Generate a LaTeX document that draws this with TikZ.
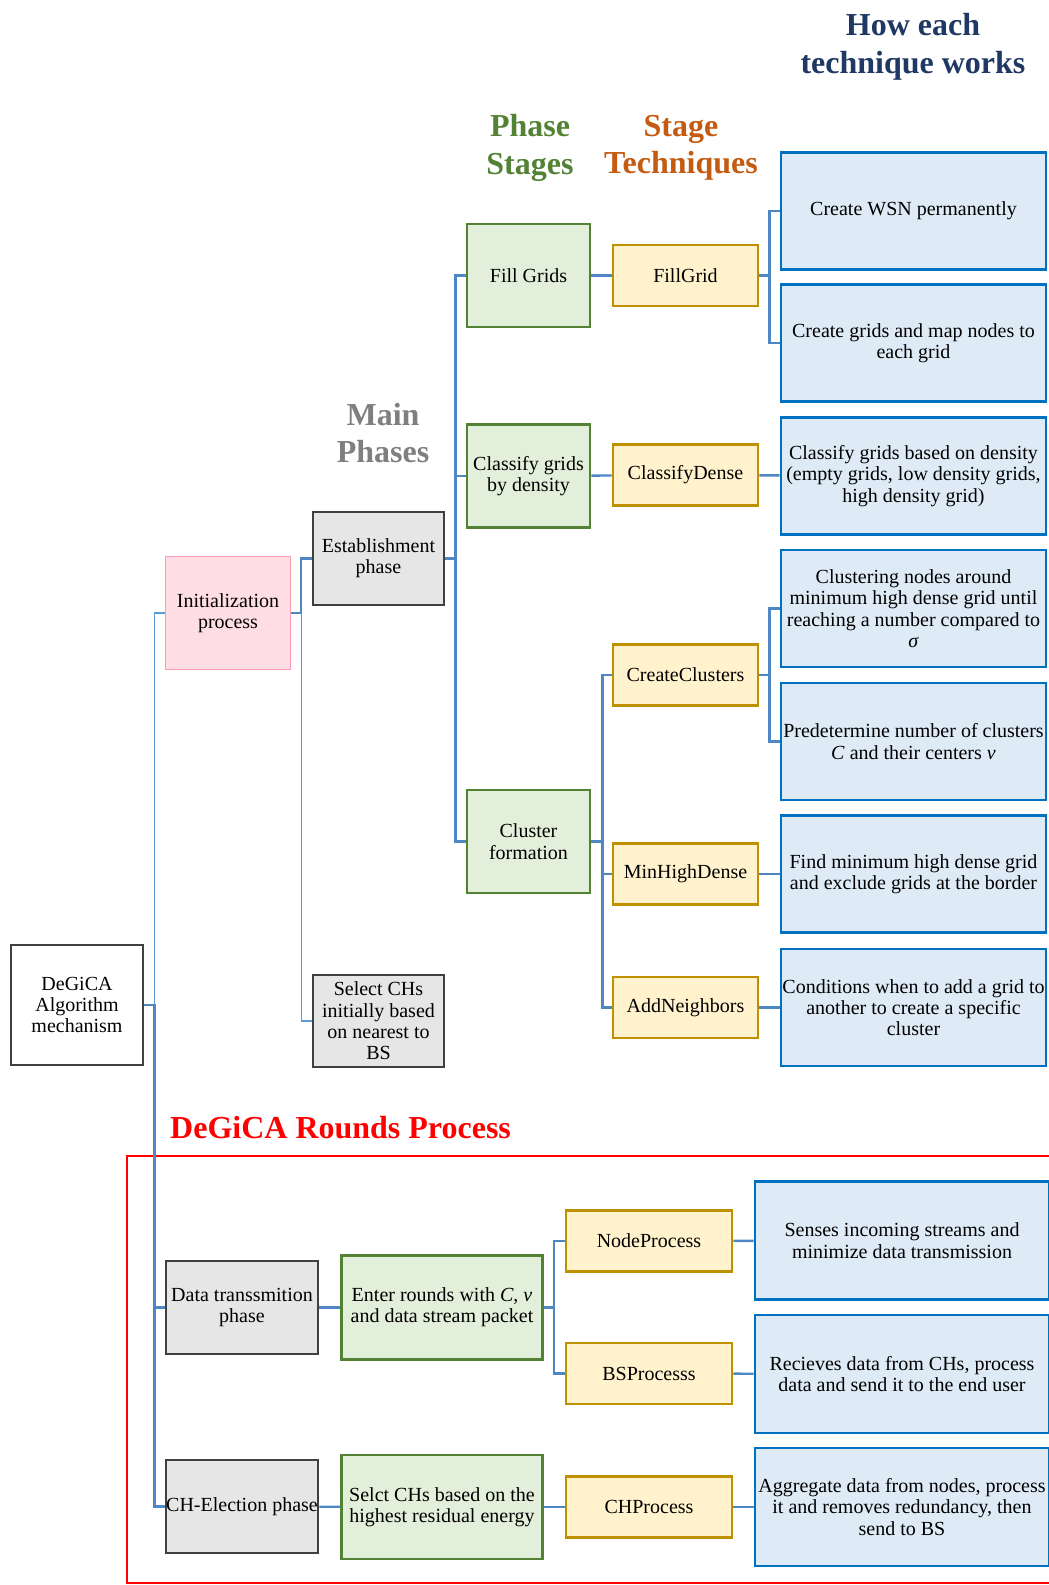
\documentclass[tikz,border=0pt]{standalone}
\usepackage{fontspec}
\setmainfont{Liberation Serif}
\definecolor{linkblue}{HTML}{4F87C5}
\definecolor{linkthin}{HTML}{5B9BD5}
\definecolor{darkedge}{HTML}{404040}
\definecolor{grayfill}{HTML}{E6E6E6}
\definecolor{pinkfill}{HTML}{FFDDE4}
\definecolor{pinkedge}{HTML}{FF9CB5}
\definecolor{greenfill}{HTML}{E2EFDA}
\definecolor{greenedge}{HTML}{548235}
\definecolor{yellowfill}{HTML}{FFF2CC}
\definecolor{yellowedge}{HTML}{BF9000}
\definecolor{bluefill}{HTML}{DEEBF7}
\definecolor{blueedge}{HTML}{0070C0}
\definecolor{navytitle}{HTML}{1F3864}
\definecolor{orangetitle}{HTML}{C55A11}
\definecolor{graytitle}{HTML}{7F7F7F}
\begin{document}
\begin{tikzpicture}[x=1pt,y=-1pt,
  box/.style={rectangle, line width=2.6pt, align=center, inner sep=0pt,
    font=\fontsize{20}{21.3}\selectfont, text=black},
  rootbox/.style={box, draw=darkedge, fill=white},
  phasebox/.style={box, draw=darkedge, fill=grayfill},
  initbox/.style={box, draw=pinkedge, fill=pinkfill, line width=1.5pt},
  stagebox/.style={box, draw=greenedge, fill=greenfill},
  techbox/.style={box, draw=yellowedge, fill=yellowfill},
  infobox/.style={box, draw=blueedge, fill=bluefill},
  heading/.style={align=center, inner sep=0pt, font=\fontsize{32}{37.4}\selectfont\bfseries},
  link/.style={draw=linkblue, line width=2.4pt},
  thinlink/.style={draw=linkthin, line width=1.2pt},
]
\useasboundingbox (0,0) rectangle (1049,1585);
\clip (0,0) rectangle (1049,1585);

% column headings
\node[heading, text=navytitle] (hHow) at (913,47) {How each\\technique works};
\node[heading, text=greenedge] (hStages) at (530,148) {Phase\\Stages};
\node[heading, text=orangetitle] (hTech) at (681,148) {Stage\\Techniques};
\node[heading, text=graytitle] (hMain) at (383,433) {Main\\Phases};
\node[heading, text=red, anchor=west] (hRounds) at (170,1128) {DeGiCA Rounds Process};

% rounds frame
\draw[red, line width=2pt] (1060,1156) -- (127,1156) -- (127,1583) -- (1060,1583);

% root and main phases
\node[rootbox, minimum width=132, minimum height=120] (root) at (77,1005) {DeGiCA\\Algorithm\\mechanism};
\node[initbox, minimum width=125, minimum height=113] (init) at (228,613) {Initialization\\process};
\node[phasebox, minimum width=131, minimum height=93] (estab) at (378.5,558.5) {Establishment\\phase};
\node[phasebox, minimum width=131, minimum height=92] (selch) at (378.5,1021) {Select CHs\\initially based\\on nearest to\\BS};

% phase stages
\node[stagebox, minimum width=123, minimum height=103] (fill) at (528.5,275.5) {Fill Grids};
\node[stagebox, minimum width=123, minimum height=103] (classify) at (528.5,476) {Classify grids\\by density};
\node[stagebox, minimum width=123, minimum height=103] (cluster) at (528.5,841.5) {Cluster\\formation};

% stage techniques
\node[techbox, minimum width=145, minimum height=61] (tFill) at (685.5,275.5) {FillGrid};
\node[techbox, minimum width=145, minimum height=61] (tClass) at (685.5,475) {ClassifyDense};
\node[techbox, minimum width=145, minimum height=61] (tCreate) at (685.5,675) {CreateClusters};
\node[techbox, minimum width=145, minimum height=61] (tMin) at (685.5,874) {MinHighDense};
\node[techbox, minimum width=145, minimum height=61] (tAdd) at (685.5,1007.5) {AddNeighbors};

% how each technique works
\node[infobox, minimum width=265, minimum height=117] (iWsn) at (913.5,211) {Create WSN permanently};
\node[infobox, minimum width=265, minimum height=117] (iGrids) at (913.5,343) {Create grids and map nodes to\\each grid};
\node[infobox, minimum width=265, minimum height=117] (iClass) at (913.5,476) {Classify grids based on density\\(empty grids, low density grids,\\high density grid)};
\node[infobox, minimum width=265, minimum height=117] (iClust) at (913.5,608.5) {Clustering nodes around\\minimum high dense grid until\\reaching a number compared to\\\textit{σ}};
\node[infobox, minimum width=265, minimum height=117] (iPre) at (913.5,741.5) {Predetermine number of clusters\\\textit{C} and their centers \textit{v}};
\node[infobox, minimum width=265, minimum height=117] (iFind) at (913.5,874) {Find minimum high dense grid\\and exclude grids at the border};
\node[infobox, minimum width=265, minimum height=117] (iCond) at (913.5,1007.5) {Conditions when to add a grid to\\another to create a specific\\cluster};

% rounds process
\node[phasebox, minimum width=152, minimum height=93] (data) at (242,1307.5) {Data transsmition\\phase};
\node[phasebox, minimum width=152, minimum height=93] (elect) at (242,1506.5) {CH-Election phase};
\node[stagebox, minimum width=201, minimum height=104] (enter) at (442,1307.5) {Enter rounds with \textit{C}, \textit{v}\\and data stream packet};
\node[stagebox, minimum width=201, minimum height=104] (selct) at (442,1507) {Selct CHs based on the\\highest residual energy};
\node[techbox, minimum width=166, minimum height=61] (tNode) at (649,1241) {NodeProcess};
\node[techbox, minimum width=166, minimum height=61] (tBs) at (649,1373.5) {BSProcesss};
\node[techbox, minimum width=166, minimum height=61] (tCh) at (649,1507) {CHProcess};
\node[infobox, minimum width=294, minimum height=118] (iSense) at (902,1240.5) {Senses incoming streams and\\minimize data transmission};
\node[infobox, minimum width=294, minimum height=118] (iRecv) at (902,1374) {Recieves data from CHs, process\\data and send it to the end user};
\node[infobox, minimum width=294, minimum height=118] (iAgg) at (902,1507) {Aggregate data from nodes, process\\it and removes redundancy, then\\send to BS};

% connectors
\draw[thinlink] (root.east) -- ++(10,0) |- (init.west);
\draw[link] (root.east) -- ++(10,0) |- (data.west);
\draw[link] (root.east) -- ++(10,0) |- (elect.west);

\draw[link] (init.east) -- ++(10,0) |- (estab.west);
\draw[thinlink] (init.east) ++(10,0) |- (selch.west);

\draw[link] (estab.east) -- ++(10,0) |- (fill.west);
\draw[link] (estab.east) -- ++(10,0) |- (classify.west);
\draw[link] (estab.east) -- ++(10,0) |- (cluster.west);

\draw[link] (fill) -- (tFill);
\draw[link] (classify) -- (tClass);
\draw[link] (cluster.east) -- ++(11,0) |- (tCreate.west);
\draw[link] (cluster.east) -- ++(11,0) |- (tMin.west);
\draw[link] (cluster.east) -- ++(11,0) |- (tAdd.west);

\draw[link] (tFill.east) -- ++(10,0) |- (iWsn.west);
\draw[link] (tFill.east) -- ++(10,0) |- (iGrids.west);
\draw[link] (tClass) -- (iClass);
\draw[link] (tCreate.east) -- ++(10,0) |- (iClust.west);
\draw[link] (tCreate.east) -- ++(10,0) |- (iPre.west);
\draw[link] (tMin) -- (iFind);
\draw[link] (tAdd) -- (iCond);

\draw[link] (data) -- (enter);
\draw[link] (enter.east) -- ++(10,0) |- (tNode.west);
\draw[link] (enter.east) -- ++(10,0) |- (tBs.west);
\draw[link] (tNode) -- (iSense);
\draw[link] (tBs) -- (iRecv);
\draw[link] (elect) -- (selct);
\draw[link] (selct) -- (tCh);
\draw[link] (tCh) -- (iAgg);
\end{tikzpicture}
\end{document}
